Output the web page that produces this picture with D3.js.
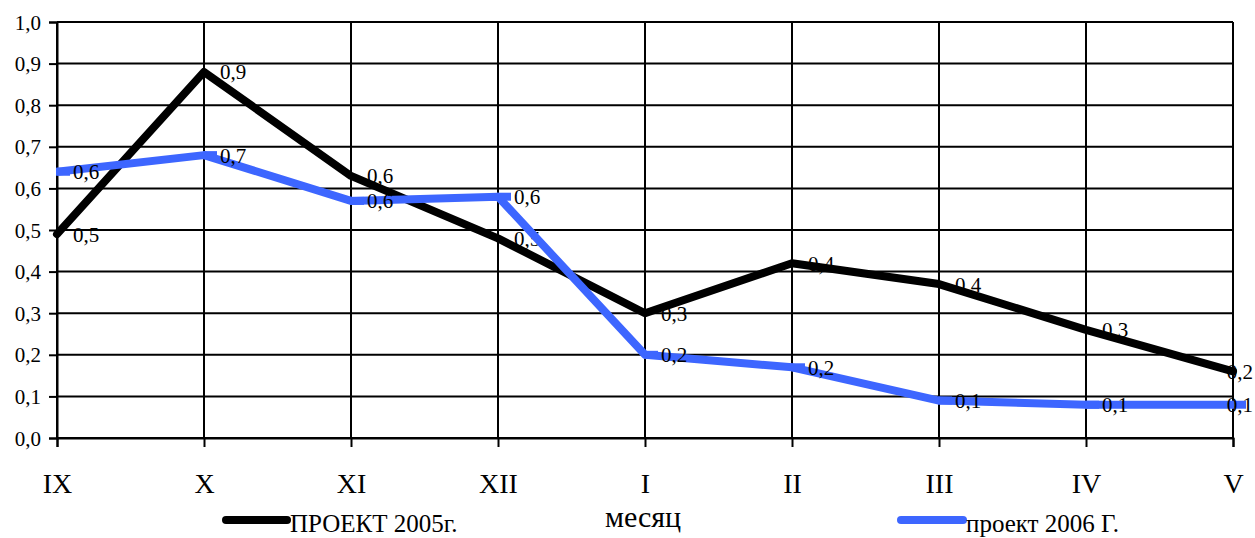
<!DOCTYPE html>
<html>
<head>
<meta charset="utf-8">
<script src="https://cdn.jsdelivr.net/npm/d3@7"></script>
<style>
  html, body { margin: 0; padding: 0; background: #fff; }
  svg { display: block; }
</style>
</head>
<body>
<svg id="chart" width="1255" height="538"></svg>
<script>
// Months of the season, September to May
const months = ["IX", "X", "XI", "XII", "I", "II", "III", "IV", "V"];
const project2005 = [0.49, 0.88, 0.63, 0.48, 0.30, 0.42, 0.37, 0.26, 0.16];
const project2006 = [0.64, 0.68, 0.57, 0.58, 0.20, 0.17, 0.09, 0.08, 0.08];
const yTicks = [0, 0.1, 0.2, 0.3, 0.4, 0.5, 0.6, 0.7, 0.8, 0.9, 1.0];
const seriesNames = ["ПРОЕКТ 2005г.", "проект 2006 Г."];
const axisTitle = "месяц";

const FONT = "'Liberation Serif', 'Times New Roman', Times, serif";
const W = 1255;
const svg = d3.select("#chart").style("font-family", FONT);
const plot = { left: 57, right: 1233, top: 22, bottom: 438 };
const fmt = v => d3.format(".1f")(v).replace(".", ",");

const x = d3.scalePoint().domain(months).range([plot.left, plot.right]);
const y = d3.scaleLinear().domain([0, 1]).range([plot.bottom, plot.top]);

// horizontal grid
svg.append("g").selectAll("line").data(yTicks).join("line")
  .attr("x1", plot.left).attr("x2", plot.right)
  .attr("y1", d => y(d)).attr("y2", d => y(d))
  .attr("stroke", "#000").attr("stroke-width", 2);

// vertical grid at each month
svg.append("g").selectAll("line").data(months).join("line")
  .attr("x1", d => x(d)).attr("x2", d => x(d))
  .attr("y1", plot.top).attr("y2", plot.bottom)
  .attr("stroke", "#000").attr("stroke-width", 2);

// y axis
const yAxis = svg.append("g").attr("transform", `translate(${plot.left},0)`)
  .call(d3.axisLeft(y).tickValues(yTicks).tickFormat(fmt).tickSize(8).tickPadding(8));
yAxis.attr("font-family", null).attr("font-size", null);
yAxis.select(".domain").attr("stroke", "#000").attr("stroke-width", 2);
yAxis.selectAll(".tick line").attr("stroke", "#000").attr("stroke-width", 2);
yAxis.selectAll(".tick text").style("font-family", FONT).style("font-size", "21px")
  .attr("fill", "#000").attr("dy", "0.34em");

// x axis
const xAxis = svg.append("g").attr("transform", `translate(0,${plot.bottom})`)
  .call(d3.axisBottom(x).tickSize(9).tickPadding(26));
xAxis.attr("font-family", null).attr("font-size", null);
xAxis.select(".domain").attr("stroke", "#000").attr("stroke-width", 2);
xAxis.selectAll(".tick line").attr("stroke", "#000").attr("stroke-width", 2);
xAxis.selectAll(".tick text").style("font-family", FONT).style("font-size", "28px")
  .attr("fill", "#000").attr("dy", "0.71em");

const line = d3.line().x((d, i) => x(months[i])).y(d => y(d));
const colors = ["#000000", "#3d66ff"];

function labels(data) {
  svg.append("g").selectAll("text").data(data).join("text")
    .attr("x", (d, i) => i === months.length - 1 ? W - 2 : x(months[i]) + 16)
    .attr("text-anchor", (d, i) => i === months.length - 1 ? "end" : "start")
    .attr("y", d => y(d))
    .attr("dy", "0.36em")
    .style("font-family", FONT).style("font-size", "21px")
    .attr("fill", "#000")
    .text(fmt);
}

// 2005 series
labels(project2005);
svg.append("path").datum(project2005)
  .attr("d", line).attr("fill", "none")
  .attr("stroke", colors[0]).attr("stroke-width", 8)
  .attr("stroke-linejoin", "round").attr("stroke-linecap", "round");

// 2006 series, with short dash markers trailing each point
svg.append("path").datum(project2006)
  .attr("d", line).attr("fill", "none")
  .attr("stroke", colors[1]).attr("stroke-width", 8)
  .attr("stroke-linejoin", "round").attr("stroke-linecap", "butt");
svg.append("g").selectAll("line").data(project2006).join("line")
  .attr("x1", (d, i) => x(months[i]) - 1).attr("x2", (d, i) => x(months[i]) + 13)
  .attr("y1", d => y(d)).attr("y2", d => y(d))
  .attr("stroke", colors[1]).attr("stroke-width", 8);
labels(project2006);

// legend and axis title
const legend = [
  { name: seriesNames[0], color: colors[0], x1: 226, x2: 287, y: 520, ty: 532 },
  { name: seriesNames[1], color: colors[1], x1: 901, x2: 963, y: 520, ty: 532 }
];
legend.forEach(l => {
  svg.append("line").attr("x1", l.x1).attr("x2", l.x2).attr("y1", l.y).attr("y2", l.y)
    .attr("stroke", l.color).attr("stroke-width", 8).attr("stroke-linecap", "round");
  svg.append("text").attr("x", l.x2 + 3).attr("y", l.ty)
    .style("font-family", FONT).style("font-size", "25px").attr("fill", "#000").text(l.name);
});
svg.append("text").attr("x", x("I") - 2).attr("y", 527).attr("text-anchor", "middle")
  .style("font-family", FONT).style("font-size", "30px").attr("fill", "#000").text(axisTitle);
</script>
</body>
</html>
